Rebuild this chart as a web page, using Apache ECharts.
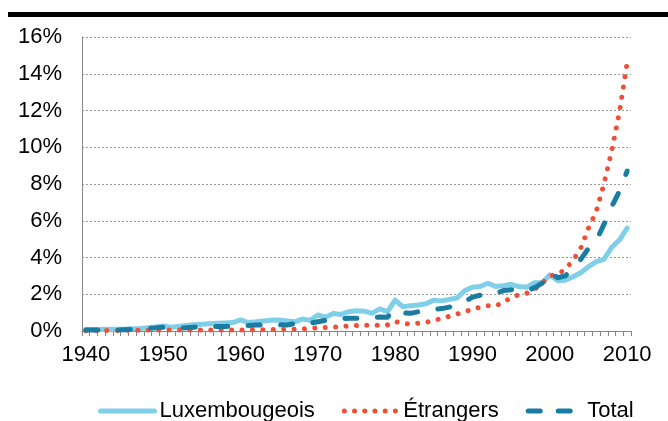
<!DOCTYPE html>
<html>
<head>
<meta charset="utf-8">
<script src="https://cdn.jsdelivr.net/npm/echarts@6/dist/echarts.min.js"></script>
<style>
html,body{margin:0;padding:0;background:#fff;}
#chart{width:668px;height:421px;}
</style>
</head>
<body>
<div id="chart"></div>
<script>
const years = [];
for (let y = 1940; y <= 2010; y++) years.push(String(y));

const seriesNames = ['Luxembougeois', 'Étrangers', 'Total'];

const luxembourgeois = [
  0.08,0.08,0.08,0.09,0.10,0.10,0.12,0.14,0.18,0.22,
  0.27,0.20,0.25,0.30,0.34,0.37,0.40,0.42,0.44,0.46,
  0.60,0.46,0.50,0.55,0.58,0.60,0.55,0.50,0.65,0.58,
  0.87,0.75,0.95,0.90,1.05,1.10,1.08,0.96,1.20,1.05,
  1.68,1.32,1.38,1.42,1.48,1.68,1.64,1.72,1.80,2.20,
  2.38,2.42,2.60,2.42,2.47,2.54,2.42,2.38,2.62,2.62,
  3.05,2.75,2.76,2.95,3.17,3.50,3.77,3.90,4.55,4.95,
  5.60
];

const etrangers = [
  0.02,0.02,0.03,0.03,0.03,0.04,0.04,0.05,0.05,0.05,
  0.05,0.05,0.05,0.05,0.06,0.06,0.06,0.06,0.06,0.06,
  0.06,0.06,0.07,0.07,0.08,0.08,0.09,0.10,0.11,0.14,
  0.17,0.19,0.22,0.22,0.28,0.30,0.31,0.31,0.31,0.33,
  0.52,0.40,0.38,0.42,0.47,0.58,0.68,0.80,0.92,1.06,
  1.18,1.30,1.38,1.36,1.58,1.80,1.98,2.05,2.25,2.60,
  3.00,3.10,3.35,3.85,4.50,5.60,6.50,8.00,9.80,11.90,
  14.60
];

const total = [
  0.05,0.05,0.05,0.05,0.05,0.07,0.09,0.11,0.14,0.17,
  0.20,0.17,0.15,0.18,0.21,0.24,0.24,0.24,0.25,0.27,
  0.32,0.30,0.32,0.34,0.35,0.34,0.33,0.40,0.45,0.42,
  0.50,0.58,0.69,0.68,0.69,0.69,0.69,0.72,0.76,0.75,
  1.18,1.00,0.96,1.05,1.13,1.18,1.22,1.30,1.45,1.60,
  1.84,1.95,2.05,2.05,2.20,2.25,2.22,2.18,2.35,2.60,
  3.20,2.90,3.00,3.40,3.90,4.50,4.90,5.80,6.76,7.60,
  8.70
];

const yTicks = { min: 0, max: 16, interval: 2 };

const colors = ['#7fcfe9', '#ee4f36', '#1a7ca3'];
const dashes = ['solid', [0.01, 10.4], [12, 20.5]];
const legendDashes = ['solid', [0.01, 10.2], [12, 18]];

const FONT = 'Liberation Sans, Arial, sans-serif';
const chart = echarts.init(document.getElementById('chart'), null, {renderer: 'canvas'});

chart.setOption({
  animation: false,
  backgroundColor: '#ffffff',
  graphic: [{
    type: 'rect',
    shape: {x: 8, y: 12, width: 660, height: 5},
    style: {fill: '#000000'}
  }],
  grid: {left: 82, right: 37, top: 37, bottom: 90, containLabel: false},
  legend: {
    left: 93,
    top: 395,
    itemWidth: 54,
    itemHeight: 26,
    itemGap: 27,
    textStyle: {fontFamily: FONT, fontSize: 22, color: '#000'},
    data: seriesNames.map((n, i) => ({
      name: n,
      itemStyle: {opacity: 0},
      lineStyle: {color: colors[i], width: 5, type: legendDashes[i], cap: 'round', opacity: 1}
    }))
  },
  xAxis: {
    type: 'category',
    data: years,
    boundaryGap: true,
    axisLine: {show: true, lineStyle: {color: '#868686', width: 1}},
    axisTick: {show: true, interval: 0, length: 5, lineStyle: {color: '#868686'}},
    axisLabel: {interval: 9, fontFamily: FONT, fontSize: 22, color: '#000', margin: 13}
  },
  yAxis: {
    type: 'value',
    min: yTicks.min,
    max: yTicks.max,
    interval: yTicks.interval,
    axisLine: {show: true, lineStyle: {color: '#868686', width: 1}},
    axisTick: {show: false},
    axisLabel: {formatter: '{value}%', fontFamily: FONT, fontSize: 22, color: '#000', margin: 20},
    splitLine: {show: true, lineStyle: {color: '#9a9a9a', width: 1, type: [2, 2]}}
  },
  series: [
    {
      name: seriesNames[0], type: 'line', data: luxembourgeois,
      symbol: 'none', showSymbol: false,
      lineStyle: {color: colors[0], width: 5, type: dashes[0], cap: 'round', join: 'round'},
      itemStyle: {color: colors[0]}
    },
    {
      name: seriesNames[1], type: 'line', data: etrangers,
      symbol: 'none', showSymbol: false,
      lineStyle: {color: colors[1], width: 5, type: dashes[1], cap: 'round', join: 'round'},
      itemStyle: {color: colors[1]}
    },
    {
      name: seriesNames[2], type: 'line', data: total,
      symbol: 'none', showSymbol: false,
      lineStyle: {color: colors[2], width: 5, type: dashes[2], cap: 'round', join: 'round'},
      itemStyle: {color: colors[2]}
    }
  ]
});
</script>
</body>
</html>
